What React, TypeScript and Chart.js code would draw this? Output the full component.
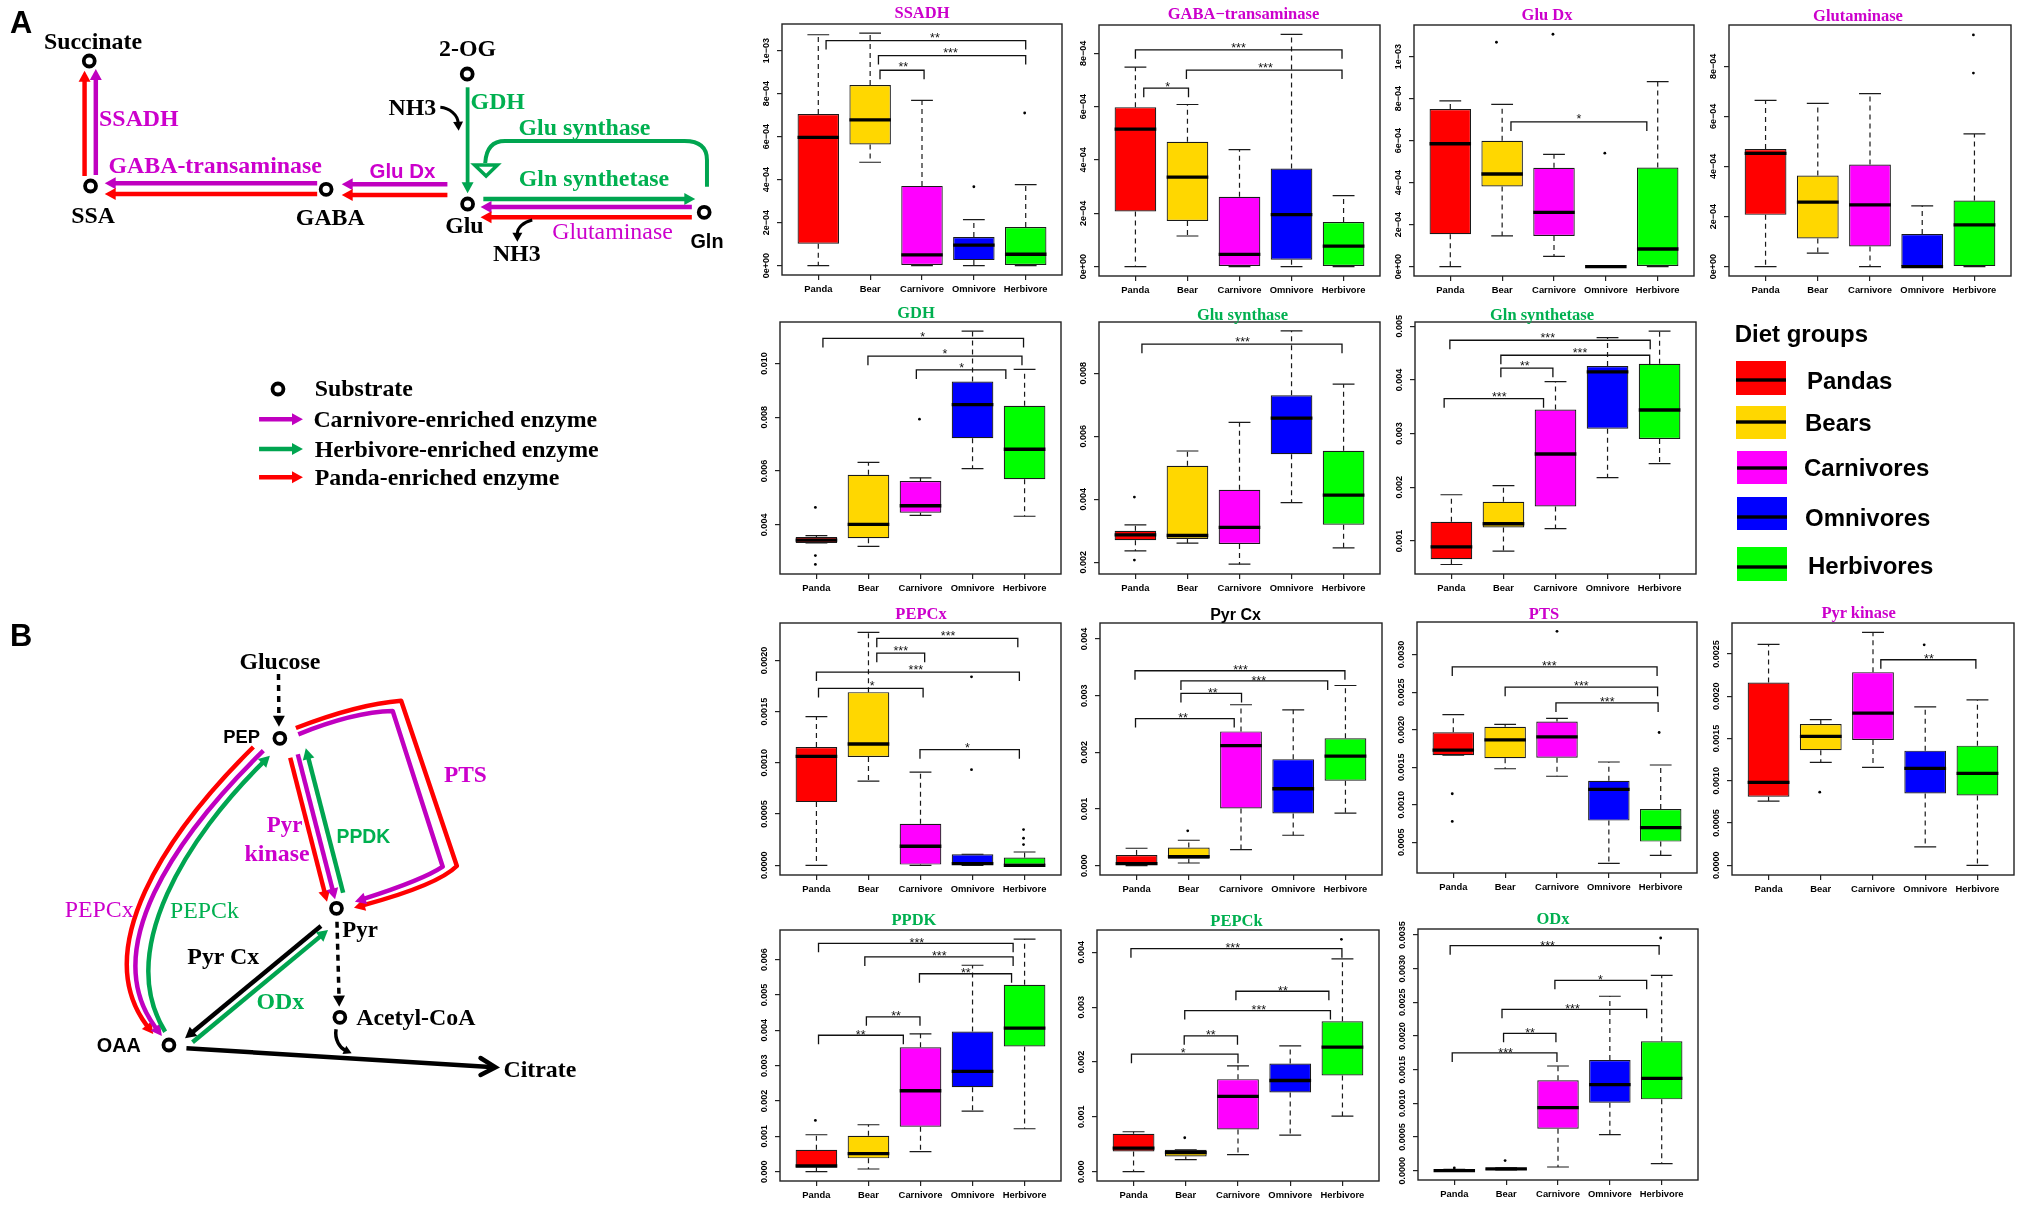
import React, { useEffect, useRef } from "react";
import { Chart, registerables } from "chart.js";

Chart.register(...registerables);

// ---------- shared chart content ----------
const categories = ["Panda", "Bear", "Carnivore", "Omnivore", "Herbivore"];
const boxColors = ["#ff0000", "#ffd700", "#ff00ff", "#0000ff", "#00ff00"];
const MAGENTA = "#cc00cc";
const GREEN = "#00b050";
const RED = "#ff0000";
const PURPLE = "#c000c0";
const ARROW_GREEN = "#00a550";

// every box row: [low whisker, q1, median, q3, high whisker]; outlier: [category position, value];
// bracket: [from, to, height, star position, stars]
const sciTicks8 = ["0e+00", "2e\u221204", "4e\u221204", "6e\u221204", "8e\u221204"];
const sciTicks10 = [...sciTicks8, "1e\u221203"];

const ssadhBoxes = [[0, 1.02, 5.97, 7.05, 10.74], [4.81, 5.64, 6.78, 8.4, 10.82], [0, 0, 0.5, 3.71, 7.69], [0, 0.26, 0.96, 1.33, 2.14], [0, 0, 0.53, 1.8, 3.77]];
const ssadhOutliers = [[4, 3.67], [4.98, 7.1]];
const ssadhBrackets = [[1.15, 5, 10.47, 3.25, "**"], [2.16, 5, 9.77, 3.55, "***"], [2.19, 3.04, 9.09, 2.64, "**"]];

const gabaBoxes = [[0, 2.07, 5.16, 5.98, 7.48], [1.15, 1.71, 3.36, 4.68, 6.08], [0, 0, 0.46, 2.62, 4.39], [0, 0.26, 1.95, 3.68, 8.71], [0, 0, 0.77, 1.67, 2.66]];
const gabaOutliers = [];
const gabaBrackets = [[1, 4.97, 8.13, 2.98, "***"], [1.98, 4.97, 7.37, 3.5, "***"], [1.16, 2.02, 6.69, 1.62, "*"]];

const gluDxBoxes = [[0, 1.54, 5.85, 7.5, 7.89], [1.47, 3.82, 4.41, 5.99, 7.72], [0.49, 1.46, 2.58, 4.71, 5.34], [0, 0, 0, 0.05, 0.05], [0, 0, 0.84, 4.72, 8.81]];
const gluDxOutliers = [[1.89, 10.68], [2.98, 11.06], [3.98, 5.4]];
const gluDxBrackets = [[2.17, 4.79, 6.89, 3.48, "*"]];

const glutaminaseBoxes = [[0, 2.07, 4.52, 4.7, 6.64], [0.54, 1.13, 2.58, 3.64, 6.52], [0, 0.81, 2.47, 4.08, 6.91], [0, 0, 0, 1.3, 2.43], [0, 0, 1.67, 2.64, 5.3]];
const glutaminaseOutliers = [[4.98, 9.25], [4.98, 7.73]];
const glutaminaseBrackets = [];

const gdhBoxes = [[3.33, 3.33, 3.43, 3.55, 3.6], [3.2, 3.5, 4.02, 5.86, 6.32], [4.35, 4.45, 4.71, 5.63, 5.75], [6.09, 7.22, 8.47, 9.33, 11.2], [4.32, 5.7, 6.81, 8.43, 9.78]];
const gdhOutliers = [[0.98, 4.65], [0.98, 2.86], [0.98, 2.53], [2.98, 7.93]];
const gdhBrackets = [[1.125, 4.98, 10.93, 3.04, "*"], [1.99, 4.95, 10.27, 3.47, "*"], [2.92, 4.64, 9.76, 3.79, "*"]];

const gluSynthaseBoxes = [[2.36, 2.7, 2.87, 3.0, 3.19], [2.61, 2.74, 2.85, 5.06, 5.53], [1.94, 2.58, 3.11, 4.3, 6.44], [3.89, 5.43, 6.57, 7.3, 9.34], [2.46, 3.19, 4.13, 5.54, 7.65]];
const gluSynthaseOutliers = [[0.98, 4.07], [0.98, 2.07]];
const gluSynthaseBrackets = [[1.125, 4.97, 8.92, 3.06, "***"]];

const glnSynthetaseBoxes = [[0.56, 0.66, 0.89, 1.355, 1.86], [0.81, 1.25, 1.32, 1.73, 2.03], [1.23, 1.64, 2.62, 3.45, 3.97], [2.18, 3.09, 4.15, 4.26, 4.79], [2.44, 2.9, 3.44, 4.3, 4.91]];
const glnSynthetaseOutliers = [];
const glnSynthetaseBrackets = [[0.97, 4.82, 4.74, 2.85, "***"], [1.95, 4.81, 4.46, 3.47, "***"], [1.95, 2.95, 4.22, 2.41, "**"], [0.86, 2.77, 3.65, 1.92, "***"]];

const pepcxBoxes = [[0, 0.617, 1.064, 1.155, 1.452], [0.822, 1.057, 1.184, 1.69, 2.274], [0, 0.007, 0.186, 0.405, 0.91], [0, 0, 0.016, 0.108, 0.108], [0, 0, 0, 0.075, 0.13]];
const pepcxOutliers = [[3.98, 1.84], [3.98, 0.933], [4.98, 0.349], [4.98, 0.264], [4.98, 0.202]];
const pepcxBrackets = [[2.16, 4.87, 2.215, 3.53, "***"], [2.16, 3.08, 2.07, 2.62, "***"], [1, 4.9, 1.886, 2.91, "***"], [1.04, 3.05, 1.726, 2.07, "*"], [2.99, 4.9, 1.129, 3.9, "*"]];

const pyrCxBoxes = [[0, 0, 0.035, 0.189, 0.307], [0.047, 0.124, 0.159, 0.319, 0.448], [0.283, 1.01, 2.12, 2.37, 2.84], [0.537, 0.92, 1.357, 1.88, 2.75], [0.926, 1.5, 1.935, 2.25, 3.18]];
const pyrCxOutliers = [[1.98, 0.614]];
const pyrCxBrackets = [[0.97, 4.99, 3.44, 2.99, "***"], [1.85, 4.66, 3.26, 3.34, "***"], [1.85, 3.01, 3.04, 2.46, "**"], [0.98, 2.87, 2.596, 1.89, "**"]];

const ptsBoxes = [[1.66, 1.66, 1.728, 1.967, 2.2], [1.48, 1.62, 1.865, 2.04, 2.07], [1.38, 1.626, 1.905, 2.11, 2.15], [0.22, 0.79, 1.205, 1.32, 1.57], [0.327, 0.51, 0.695, 0.943, 1.53]];
const ptsOutliers = [[0.98, 1.147], [0.98, 0.779], [3, 3.31], [4.97, 1.963]];
const ptsBrackets = [[0.98, 4.93, 2.836, 2.85, "***"], [2, 4.94, 2.566, 3.47, "***"], [2.98, 4.95, 2.357, 3.97, "***"]];

const pyrKinaseBoxes = [[0.76, 0.811, 0.981, 2.164, 2.615], [1.218, 1.361, 1.527, 1.673, 1.725], [1.159, 1.483, 1.8, 2.286, 2.757], [0.218, 0.85, 1.147, 1.357, 1.875], [0, 0.827, 1.088, 1.416, 1.958]];
const pyrKinaseOutliers = [[1.98, 0.866], [3.98, 2.61]];
const pyrKinaseBrackets = [[3.15, 4.97, 2.433, 4.07, "**"]];

const ppdkBoxes = [[0, 0.122, 0.16, 0.622, 1.045], [0.075, 0.377, 0.509, 1.017, 1.328], [0.565, 1.27, 2.29, 3.52, 3.9], [1.714, 2.39, 2.835, 3.965, 5.84], [1.215, 3.54, 4.06, 5.29, 6.58]];
const ppdkOutliers = [[0.98, 1.45]];
const ppdkBrackets = [[1.04, 4.78, 6.46, 2.93, "***"], [1.93, 4.78, 6.075, 3.36, "***"], [2.98, 4.75, 5.6, 3.87, "**"], [1.96, 2.99, 4.38, 2.53, "**"], [1.04, 2.67, 3.86, 1.85, "**"]];

const pepckBoxes = [[0, 0.37, 0.431, 0.692, 0.728], [0.219, 0.279, 0.346, 0.4, 0.4], [0.31, 0.771, 1.372, 1.687, 1.93], [0.668, 1.445, 1.663, 1.973, 2.294], [1.014, 1.754, 2.27, 2.744, 3.879]];
const pepckOutliers = [[1.98, 0.619], [4.98, 4.237]];
const pepckBrackets = [[0.95, 4.99, 4.067, 2.9, "***"], [2.96, 4.74, 3.29, 3.86, "**"], [1.98, 4.77, 2.938, 3.4, "***"], [1.97, 2.99, 2.477, 2.48, "**"], [0.96, 3, 2.143, 1.95, "*"]];

const odxBoxes = [[0, 0, 0, 0.01, 0.02], [0.01, 0.015, 0.025, 0.03, 0.04], [0.054, 0.624, 0.936, 1.342, 1.554], [0.535, 1.01, 1.277, 1.644, 2.59], [0.104, 1.059, 1.371, 1.921, 2.9]];
const odxOutliers = [[1, 0.04], [1.98, 0.149], [4.98, 3.455]];
const odxBrackets = [[0.92, 4.95, 3.342, 2.8, "***"], [2.94, 4.71, 2.827, 3.82, "*"], [1.92, 4.71, 2.396, 3.28, "***"], [1.95, 2.96, 2.04, 2.46, "**"], [0.96, 2.98, 1.748, 1.99, "***"]];

const panels = [
  { name: "SSADH", color: MAGENTA, unit: 1e-4, ticks: [0, 2, 4, 6, 8, 10], labels: sciTicks10, yMin: -0.434, yMax: 11.24, boxes: ssadhBoxes, outliers: ssadhOutliers, brackets: ssadhBrackets, frame: [782, 1062, 24, 275], titleAt: [922, 12], lift: 6 },
  { name: "GABA\u2212transaminase", color: MAGENTA, unit: 1e-4, ticks: [0, 2, 4, 6, 8], labels: sciTicks8, yMin: -0.35, yMax: 9.06, boxes: gabaBoxes, outliers: gabaOutliers, brackets: gabaBrackets, frame: [1099, 1380, 25, 276], titleAt: [1243.5, 13], lift: 4.7 },
  { name: "Glu Dx", color: MAGENTA, unit: 1e-4, ticks: [0, 2, 4, 6, 8, 10], labels: sciTicks10, yMin: -0.444, yMax: 11.5, boxes: gluDxBoxes, outliers: gluDxOutliers, brackets: gluDxBrackets, frame: [1414, 1694, 25, 276], titleAt: [1547, 14], lift: 6 },
  { name: "Glutaminase", color: MAGENTA, unit: 1e-4, ticks: [0, 2, 4, 6, 8], labels: sciTicks8, yMin: -0.372, yMax: 9.648, boxes: glutaminaseBoxes, outliers: glutaminaseOutliers, brackets: glutaminaseBrackets, frame: [1729, 2011, 25, 276], titleAt: [1858, 15], lift: 5 },
  { name: "GDH", color: GREEN, unit: 1e-3, ticks: [4, 6, 8, 10], labels: ["0.004", "0.006", "0.008", "0.010"], yMin: 2.174, yMax: 11.54, boxes: gdhBoxes, outliers: gdhOutliers, brackets: gdhBrackets, frame: [780, 1061, 322, 574], titleAt: [916, 312], lift: 4.7 },
  { name: "Glu synthase", color: GREEN, unit: 1e-3, ticks: [2, 4, 6, 8], labels: ["0.002", "0.004", "0.006", "0.008"], yMin: 1.629, yMax: 9.622, boxes: gluSynthaseBoxes, outliers: gluSynthaseOutliers, brackets: gluSynthaseBrackets, frame: [1099, 1380, 322, 574], titleAt: [1242.5, 314], lift: 5 },
  { name: "Gln synthetase", color: GREEN, unit: 1e-3, ticks: [1, 2, 3, 4, 5], labels: ["0.001", "0.002", "0.003", "0.004", "0.005"], yMin: 0.383, yMax: 5.08, boxes: glnSynthetaseBoxes, outliers: glnSynthetaseOutliers, brackets: glnSynthetaseBrackets, frame: [1415, 1696, 322, 574], titleAt: [1542, 314], lift: 5 },
  { name: "PEPCx", color: MAGENTA, unit: 1e-3, ticks: [0, 0.5, 1, 1.5, 2], labels: ["0.0000", "0.0005", "0.0010", "0.0015", "0.0020"], yMin: -0.0946, yMax: 2.365, boxes: pepcxBoxes, outliers: pepcxOutliers, brackets: pepcxBrackets, frame: [780, 1061, 623, 875], titleAt: [921, 613], lift: 5 },
  { name: "Pyr Cx", color: "#000000", sans: true, unit: 1e-3, ticks: [0, 1, 2, 3, 4], labels: ["0.000", "0.001", "0.002", "0.003", "0.004"], yMin: -0.165, yMax: 4.283, boxes: pyrCxBoxes, outliers: pyrCxOutliers, brackets: pyrCxBrackets, frame: [1100, 1382, 623, 875], titleAt: [1235.5, 614], lift: 3.3 },
  { name: "PTS", color: MAGENTA, unit: 1e-3, ticks: [0.5, 1, 1.5, 2, 2.5, 3], labels: ["0.0005", "0.0010", "0.0015", "0.0020", "0.0025", "0.0030"], yMin: 0.092, yMax: 3.434, boxes: ptsBoxes, outliers: ptsOutliers, brackets: ptsBrackets, frame: [1417, 1697, 622, 873], titleAt: [1544, 613], lift: 3.7 },
  { name: "Pyr kinase", color: MAGENTA, unit: 1e-3, ticks: [0, 0.5, 1, 1.5, 2, 2.5], labels: ["0.0000", "0.0005", "0.0010", "0.0015", "0.0020", "0.0025"], yMin: -0.115, yMax: 2.868, boxes: pyrKinaseBoxes, outliers: pyrKinaseOutliers, brackets: pyrKinaseBrackets, frame: [1732, 2014, 623, 875], titleAt: [1858.6, 612], lift: 3.3 },
  { name: "PPDK", color: GREEN, unit: 1e-3, ticks: [0, 1, 2, 3, 4, 5, 6], labels: ["0.000", "0.001", "0.002", "0.003", "0.004", "0.005", "0.006"], yMin: -0.264, yMax: 6.838, boxes: ppdkBoxes, outliers: ppdkOutliers, brackets: ppdkBrackets, frame: [780, 1061, 930, 1181], titleAt: [914, 919], lift: 3.7 },
  { name: "PEPCk", color: GREEN, unit: 1e-3, ticks: [0, 1, 2, 3, 4], labels: ["0.000", "0.001", "0.002", "0.003", "0.004"], yMin: -0.17, yMax: 4.407, boxes: pepckBoxes, outliers: pepckOutliers, brackets: pepckBrackets, frame: [1097, 1379, 930, 1181], titleAt: [1236.5, 920], lift: 3.7 },
  { name: "ODx", color: GREEN, unit: 1e-3, ticks: [0, 0.5, 1, 1.5, 2, 2.5, 3, 3.5], labels: ["0.0000", "0.0005", "0.0010", "0.0015", "0.0020", "0.0025", "0.0030", "0.0035"], yMin: -0.139, yMax: 3.589, boxes: odxBoxes, outliers: odxOutliers, brackets: odxBrackets, frame: [1418, 1698, 929, 1180], titleAt: [1553, 918], lift: 3 },
];

// ---------- legend and pathway content ----------
const dietGroups = [
  { name: "Pandas", color: "#ff0000", box: [1736, 361, 50, 34], median: 380, textAt: [1807, 380] },
  { name: "Bears", color: "#ffd700", box: [1736, 406, 50, 33], median: 422, textAt: [1805, 422] },
  { name: "Carnivores", color: "#ff00ff", box: [1737, 451, 50, 33], median: 468, textAt: [1804, 467] },
  { name: "Omnivores", color: "#0000ff", box: [1737, 497, 50, 33], median: 517, textAt: [1805, 517] },
  { name: "Herbivores", color: "#00ff00", box: [1737, 547, 50, 34], median: 567, textAt: [1808, 565] },
];

const substrates = [[89.7, 61], [91, 186], [327.8, 189.3], [469.6, 74], [470, 204], [707.8, 212.3], [279.4, 389], [281.3, 738.3], [338.2, 908.3], [341.6, 1017.3], [169.8, 1045]];

const SERIF = '"Liberation Serif"';
const SANS = '"Liberation Sans"';
// [text, x, y, anchor, colour, family, size, weight]
const pathwayLabels = [
  ["A", 10, 22, "start", "#000", SANS, 31, 700],
  ["B", 10, 635, "start", "#000", SANS, 31, 700],
  ["Succinate", 93.5, 41, "middle", "#000", SERIF, 24, 700],
  ["SSADH", 99.6, 118, "start", MAGENTA, SERIF, 24, 700],
  ["SSA", 93.5, 215, "middle", "#000", SERIF, 24, 700],
  ["GABA-transaminase", 109, 165, "start", MAGENTA, SERIF, 24, 700],
  ["GABA", 332, 217.3, "middle", "#000", SERIF, 24, 700],
  ["Glu Dx", 371.4, 170.7, "start", MAGENTA, SANS, 20.6, 700],
  ["2-OG", 470, 47.7, "middle", "#000", SERIF, 24, 700],
  ["GDH", 473, 101, "start", GREEN, SERIF, 24, 700],
  ["NH3", 390.4, 107, "start", "#000", SERIF, 24, 700],
  ["Glu synthase", 587.5, 127, "middle", GREEN, SERIF, 24, 700],
  ["Gln synthetase", 597, 178.3, "middle", GREEN, SERIF, 24, 700],
  ["Glu", 466.8, 225, "middle", "#000", SERIF, 24, 700],
  ["Gln", 710.6, 241.3, "middle", "#000", SANS, 20, 700],
  ["Glutaminase", 555, 231, "start", MAGENTA, SERIF, 24, 400],
  ["NH3", 519.4, 253.3, "middle", "#000", SERIF, 24, 700],
  ["Substrate", 316.4, 388.3, "start", "#000", SERIF, 24, 700],
  ["Carnivore-enriched enzyme", 315, 419.3, "start", "#000", SERIF, 24, 700],
  ["Herbivore-enriched enzyme", 316.4, 449, "start", "#000", SERIF, 24, 700],
  ["Panda-enriched enzyme", 316.4, 476.7, "start", "#000", SERIF, 24, 700],
  ["Glucose", 281.3, 661, "middle", "#000", SERIF, 24, 700],
  ["PEP", 242.9, 736, "middle", "#000", SANS, 18.5, 700],
  ["PTS", 467.7, 774, "middle", MAGENTA, SERIF, 23.5, 700],
  ["Pyr", 286, 824, "middle", MAGENTA, SERIF, 23, 700],
  ["kinase", 278.5, 853.3, "middle", MAGENTA, SERIF, 24, 700],
  ["PPDK", 365.3, 836, "middle", GREEN, SANS, 19.5, 700],
  ["Pyr", 362, 929.3, "middle", "#000", SERIF, 23, 700],
  ["PEPCx", 65, 909, "start", MAGENTA, SERIF, 24, 400],
  ["PEPCk", 170.8, 910, "start", GREEN, SERIF, 24, 400],
  ["Pyr Cx", 188.3, 956, "start", "#000", SERIF, 24, 700],
  ["ODx", 281.8, 1000.7, "middle", GREEN, SERIF, 24, 700],
  ["Acetyl-CoA", 358, 1016.7, "start", "#000", SERIF, 24, 700],
  ["OAA", 119.5, 1045, "middle", "#000", SANS, 20, 700],
  ["Citrate", 506, 1069, "start", "#000", SERIF, 24, 700],
];

// path is open at its end: the arrow head's base point is appended to it
const pathwayArrows = [
  { path: "M85 176 L", from: [85, 176], tip: [85, 70.7], color: RED },
  { path: "M96.3 175 L", from: [96.3, 175], tip: [96.3, 69], color: PURPLE },
  { path: "M318.8 183.3 L", from: [318.8, 183.3], tip: [105.3, 183.3], color: PURPLE },
  { path: "M318.8 194 L", from: [318.8, 194], tip: [105.3, 194], color: RED },
  { path: "M449.7 184.3 L", from: [449.7, 184.3], tip: [343.5, 184.3], color: PURPLE },
  { path: "M449.7 195 L", from: [449.7, 195], tip: [343.5, 195], color: RED },
  { path: "M470 87.3 L", from: [470, 87.3], tip: [470, 193.3], color: ARROW_GREEN, w: 3.8 },
  { path: "M485.8 199 L", from: [485.8, 199], tip: [698.8, 199], color: ARROW_GREEN },
  { path: "M695.4 207 L", from: [695.4, 207], tip: [483, 207], color: PURPLE },
  { path: "M695.4 217.3 L", from: [695.4, 217.3], tip: [483, 217.3], color: RED },
  { path: "M442.6 107.3 C452 108 460 115", from: [460, 115], tip: [461, 130.7], color: "#000", w: 3, hl: 9, hw: 10 },
  { path: "M535 220 C526 222 520 228", from: [520, 228], tip: [520, 241.7], color: "#000", w: 3, hl: 9, hw: 10 },
  { path: "M260.4 419.3 L", from: [260.4, 419.3], tip: [304.5, 419.3], color: PURPLE },
  { path: "M260.4 449 L", from: [260.4, 449], tip: [304.5, 449], color: ARROW_GREEN },
  { path: "M260.4 477.3 L", from: [260.4, 477.3], tip: [304.5, 477.3], color: RED },
  { path: "M279.9 674 L", from: [279.9, 674], tip: [280.4, 726.7], color: "#000", w: 3.5, dash: "6 5" },
  { path: "M297.4 728 Q360 704 403.2 700.7 L459.2 866 Q440 885", from: [440, 885], tip: [355.8, 907.7], color: RED },
  { path: "M299.8 734.3 Q355 712 394.7 711 L445 866.7 Q425 880", from: [425, 880], tip: [356.7, 901.7], color: PURPLE },
  { path: "M291.7 757.7 L", from: [291.7, 757.7], tip: [328.7, 901.7], color: RED },
  { path: "M299.3 754.3 L", from: [299.3, 754.3], tip: [336.8, 899.3], color: PURPLE },
  { path: "M344.9 892.7 L", from: [344.9, 892.7], tip: [307.4, 748.3], color: ARROW_GREEN },
  { path: "M254.7 747 C165 835 90 950", from: [90, 950], tip: [154, 1034], color: RED },
  { path: "M264.7 750.7 C175 838 98 950", from: [98, 950], tip: [162.7, 1036], color: PURPLE },
  { path: "M166 1031.7 C115 950 190 835", from: [190, 835], tip: [271.3, 755.7], color: ARROW_GREEN },
  { path: "M322.6 926 L", from: [322.6, 926], tip: [186, 1038.3], color: "#000" },
  { path: "M193.5 1042.3 L", from: [193.5, 1042.3], tip: [329.7, 930], color: ARROW_GREEN },
  { path: "M338.7 921.7 L", from: [338.7, 921.7], tip: [341, 1006.7], color: "#000", w: 3.5, dash: "6 5" },
  { path: "M337.8 1029.3 C336 1040 342 1048", from: [342, 1048], tip: [353.4, 1053.3], color: "#000", w: 3.5, hl: 8, hw: 9 },
];

// ---------- chart panel ----------
const Y_AXIS_W = 42;
const X_AXIS_H = 32;
const PAD_TOP = 20;
const PAD_RIGHT = 4;
const TICK_FONT = SANS;
const SOFTEN = "blur(0.4px)";

function tickPadding(labels: string[]) {
  const ctx = document.createElement("canvas").getContext("2d")!;
  ctx.font = `bold 9px ${TICK_FONT}`;
  const widest = Math.max(...labels.map((l) => ctx.measureText(l).width));
  return 15 - 5 - widest / 2;
}

function makeDecor(p: any) {
  const ink = "#1a1a1a";
  return {
    id: "boxDecor",
    beforeDatasetsDraw(chart: any) {
      const { ctx, scales: { x, y } } = chart;
      ctx.save();
      ctx.strokeStyle = ink;
      ctx.lineWidth = 1.2;
      p.boxes.forEach((b: number[], i: number) => {
        const cx = x.getPixelForValue(i + 1);
        const [lo, q1, , q3, hi] = b.map((v) => y.getPixelForValue(v * p.unit));
        ctx.setLineDash([5, 4]);
        ctx.beginPath();
        ctx.moveTo(cx, q3);
        ctx.lineTo(cx, hi);
        ctx.moveTo(cx, q1);
        ctx.lineTo(cx, lo);
        ctx.stroke();
        ctx.setLineDash([]);
        const c0 = x.getPixelForValue(i + 1 - 0.21);
        const c1 = x.getPixelForValue(i + 1 + 0.21);
        ctx.beginPath();
        ctx.moveTo(c0, hi);
        ctx.lineTo(c1, hi);
        ctx.moveTo(c0, lo);
        ctx.lineTo(c1, lo);
        ctx.stroke();
      });
      ctx.restore();
    },
    afterDatasetsDraw(chart: any) {
      const { ctx, chartArea: a, scales: { x, y } } = chart;
      ctx.save();
      ctx.strokeStyle = "#000";
      ctx.lineWidth = 3.3;
      p.boxes.forEach((b: number[], i: number) => {
        const m = y.getPixelForValue(b[2] * p.unit);
        ctx.beginPath();
        ctx.moveTo(x.getPixelForValue(i + 1 - 0.4), m);
        ctx.lineTo(x.getPixelForValue(i + 1 + 0.4), m);
        ctx.stroke();
      });
      ctx.strokeStyle = "#111";
      ctx.lineWidth = 1.3;
      ctx.fillStyle = "#111";
      ctx.font = `12.5px ${SANS}`;
      ctx.textAlign = "center";
      ctx.textBaseline = "alphabetic";
      p.brackets.forEach(([from, to, top, at, stars]: any[]) => {
        const yy = y.getPixelForValue(top * p.unit);
        const x0 = x.getPixelForValue(from);
        const x1 = x.getPixelForValue(to);
        ctx.beginPath();
        ctx.moveTo(x0, yy + 9);
        ctx.lineTo(x0, yy);
        ctx.lineTo(x1, yy);
        ctx.lineTo(x1, yy + 9);
        ctx.stroke();
        ctx.fillText(stars, x.getPixelForValue(at), yy - p.lift + 7);
      });
      ctx.strokeStyle = "#222";
      ctx.lineWidth = 1.4;
      ctx.strokeRect(a.left, a.top, a.right - a.left, a.bottom - a.top);
      ctx.restore();
    },
  };
}

function BoxPanel({ p }: { p: any }) {
  const ref = useRef<HTMLCanvasElement>(null);
  const [L, R, T, B] = p.frame;
  useEffect(() => {
    const fixX = (s: any) => {
      s.height = X_AXIS_H;
      s.paddingLeft = s.paddingRight = 0;
    };
    const fixY = (s: any) => {
      s.width = Y_AXIS_W;
      s.paddingTop = s.paddingBottom = 0;
    };
    const tickGrid = { display: true, drawOnChartArea: false, drawTicks: true, tickLength: 5, color: "#222", lineWidth: 1.2 };
    const chart = new Chart(ref.current!, {
      type: "bar",
      data: {
        datasets: [
          {
            type: "bar",
            data: p.boxes.map((b: number[], i: number) => ({ x: i + 1, y: [b[1] * p.unit, b[3] * p.unit] })),
            backgroundColor: boxColors,
            borderColor: "#1a1a1a",
            borderWidth: 1.2,
            borderSkipped: false,
            barPercentage: 0.8,
            categoryPercentage: 1,
          },
          {
            type: "scatter",
            data: p.outliers.map(([cx, v]: number[]) => ({ x: cx, y: v * p.unit })),
            pointRadius: 1.4,
            pointBackgroundColor: "#000",
            pointBorderWidth: 0,
          },
        ],
      } as any,
      options: {
        animation: false,
        responsive: false,
        maintainAspectRatio: false,
        layout: { padding: { top: PAD_TOP, right: PAD_RIGHT, bottom: 0, left: 0 } },
        plugins: { legend: { display: false }, tooltip: { enabled: false }, title: { display: false } },
        scales: {
          x: {
            type: "linear",
            offset: false,
            min: 0.3,
            max: 5.7,
            grid: { ...tickGrid, offset: false },
            border: { display: false },
            afterBuildTicks: (s: any) => {
              s.ticks = categories.map((_, i) => ({ value: i + 1 }));
            },
            afterFit: fixX,
            ticks: {
              autoSkip: false,
              maxRotation: 0,
              padding: 4,
              color: "#000",
              font: { family: "Liberation Sans", size: 9.4, weight: "bold" },
              callback: (_: any, i: number) => categories[i],
            },
          },
          y: {
            type: "linear",
            min: p.yMin * p.unit,
            max: p.yMax * p.unit,
            grid: tickGrid,
            border: { display: false },
            afterBuildTicks: (s: any) => {
              s.ticks = p.ticks.map((v: number) => ({ value: v * p.unit }));
            },
            afterFit: fixY,
            ticks: {
              autoSkip: false,
              minRotation: 90,
              maxRotation: 90,
              crossAlign: "center",
              padding: tickPadding(p.labels),
              color: "#000",
              font: { family: "Liberation Sans", size: 9, weight: "bold" },
              callback: (_: any, i: number) => p.labels[i],
            },
          },
        },
      } as any,
      plugins: [makeDecor(p)],
    } as any);
    return () => chart.destroy();
  }, [p]);
  return (
    <canvas
      ref={ref}
      width={R - L + Y_AXIS_W + PAD_RIGHT}
      height={B - T + X_AXIS_H + PAD_TOP}
      style={{ position: "absolute", left: L - Y_AXIS_W, top: T - PAD_TOP, filter: SOFTEN }}
    />
  );
}

function Arrow({ a }: { a: any }) {
  const { path, from, tip, color, w = 4.5, hl = 11, hw = 12, dash } = a;
  const dx = tip[0] - from[0];
  const dy = tip[1] - from[1];
  const n = Math.hypot(dx, dy);
  const ux = dx / n;
  const uy = dy / n;
  const bx = tip[0] - ux * hl;
  const by = tip[1] - uy * hl;
  const px = (-uy * hw) / 2;
  const py = (ux * hw) / 2;
  return (
    <g>
      <path d={`${path} ${bx + ux} ${by + uy}`} fill="none" stroke={color} strokeWidth={w} strokeDasharray={dash} strokeLinejoin="round" />
      <polygon points={`${tip[0]},${tip[1]} ${bx + px},${by + py} ${bx - px},${by - py}`} fill={color} />
    </g>
  );
}

export default function App() {
  return (
    <div style={{ position: "absolute", left: 0, top: 0, width: 2020, height: 1205, overflow: "hidden", background: "#fff" }}>
      {panels.map((p) => (
        <BoxPanel key={p.name} p={p} />
      ))}
      <svg width={2020} height={1205} style={{ position: "absolute", left: 0, top: 0, pointerEvents: "none", filter: SOFTEN }}>
        {panels.map((p: any) => (
          <text
            key={p.name}
            x={p.titleAt[0]}
            y={p.titleAt[1]}
            textAnchor="middle"
            dominantBaseline="central"
            fill={p.color}
            fontFamily={p.sans ? SANS : SERIF}
            fontSize={p.sans ? 16 : 16.5}
            fontWeight={700}
          >
            {p.name}
          </text>
        ))}

        <text x={1734.7} y={333} dominantBaseline="central" fontFamily={SANS} fontSize={24} fontWeight={700} fill="#000">
          Diet groups
        </text>
        {dietGroups.map((g) => (
          <g key={g.name}>
            <rect x={g.box[0]} y={g.box[1]} width={g.box[2]} height={g.box[3]} fill={g.color} />
            <rect x={g.box[0]} y={g.median - 1.7} width={g.box[2]} height={3.4} fill="#000" />
            <text x={g.textAt[0]} y={g.textAt[1]} dominantBaseline="central" fontFamily={SANS} fontSize={24} fontWeight={700} fill="#000">
              {g.name}
            </text>
          </g>
        ))}

        <g transform="scale(0.9949 1)">
          {pathwayArrows.map((a, i) => (
            <Arrow key={i} a={a} />
          ))}
          <path d="M710.6 186.7 V160 Q710.6 141 688 141 H507.6 Q489 141 487.7 163" fill="none" stroke={ARROW_GREEN} strokeWidth={4} />
          <polygon points="477,165 500,165 488.6,176" fill="#fff" stroke={ARROW_GREEN} strokeWidth={3.5} />
          <path d="M187.4 1048.3 L497 1067.2" fill="none" stroke="#000" strokeWidth={4.5} />
          <path d="M483 1058 L498 1067.3 L483 1075" fill="none" stroke="#000" strokeWidth={4.5} strokeLinecap="round" />
          {substrates.map(([x, y], i) => (
            <circle key={i} cx={x} cy={y} r={5.5} fill="#fff" stroke="#000" strokeWidth={3.8} />
          ))}
          {pathwayLabels.map(([t, x, y, anchor, color, family, size, weight]: any, i) => (
            <text key={i} x={x} y={y} textAnchor={anchor} dominantBaseline="central" fill={color} fontFamily={family} fontSize={size} fontWeight={weight}>
              {t}
            </text>
          ))}
        </g>
      </svg>
    </div>
  );
}
